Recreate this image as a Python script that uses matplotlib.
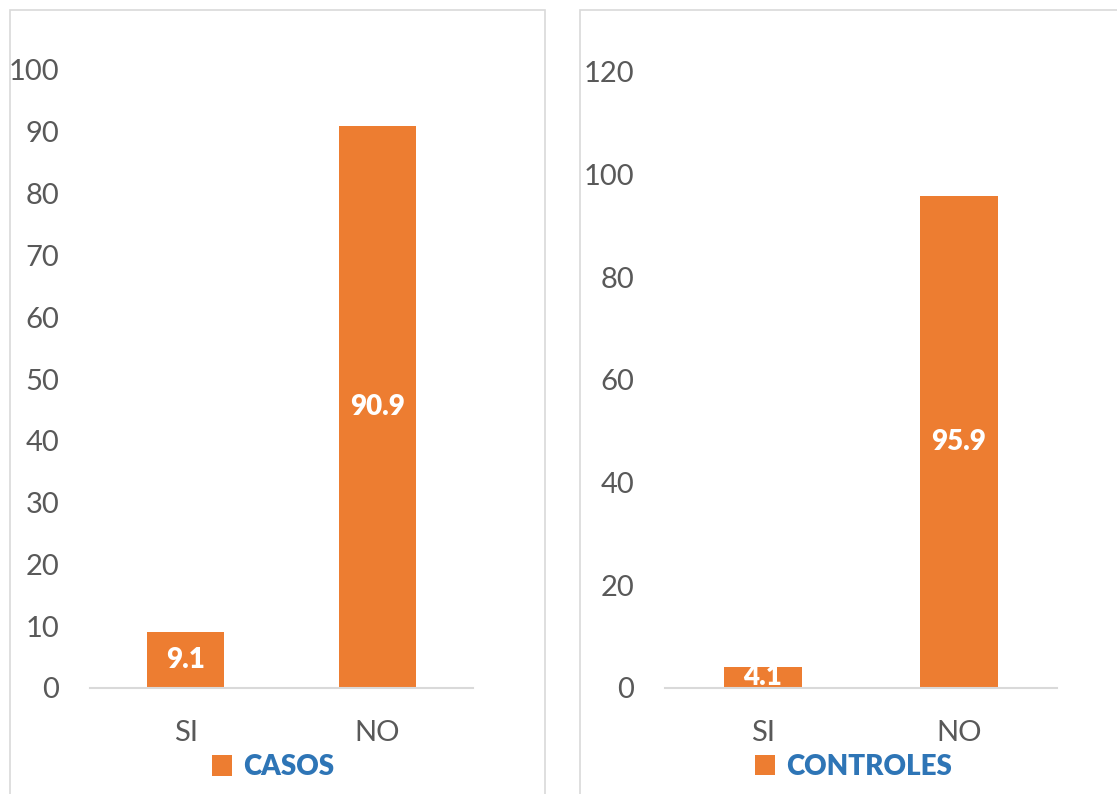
import matplotlib.pyplot as plt
from matplotlib.patches import Rectangle

plt.rcParams['font.family'] = ['Lato', 'DejaVu Sans']

categorias = ["SI", "NO"]
casos = [9.1, 90.9]
controles = [4.1, 95.9]

naranja = "#ED7D31"
azul = "#2E75B6"
gris = "#595959"
linea = "#D9D9D9"

fig = plt.figure(figsize=(11.17, 7.94), dpi=100)

# marcos de cada grafico
fig.patches.append(Rectangle((10 / 1117, -0.05), 535 / 1117, 1.05 - 10 / 794,
                             transform=fig.transFigure, fill=False,
                             edgecolor=linea, linewidth=1.2))
fig.patches.append(Rectangle((580 / 1117, -0.05), 0.6, 1.05 - 10 / 794,
                             transform=fig.transFigure, fill=False,
                             edgecolor=linea, linewidth=1.2))

ax1 = fig.add_axes([90 / 1117, 106 / 794, 383 / 1117, 618 / 794])
ax2 = fig.add_axes([665 / 1117, 106 / 794, 392 / 1117, 616 / 794])


def grafico(ax, valores, nombre, ymax, paso, leg_x):
    x = range(len(categorias))
    barras = ax.bar(x, valores, width=0.4, color=naranja, label=nombre)
    ax.bar_label(barras, label_type="center", fmt="%.1f", color="white",
                 fontsize=20, fontweight="heavy")
    ax.set_xlim(-0.5, 1.5)
    ax.set_ylim(0, ymax)
    ax.set_yticks(range(0, ymax + 1, paso))
    ax.set_xticks(list(x))
    ax.set_xticklabels(categorias)
    for s in ["top", "right", "left"]:
        ax.spines[s].set_visible(False)
    ax.spines["bottom"].set_color(linea)
    ax.spines["bottom"].set_linewidth(1.5)
    ax.tick_params(axis="y", length=0, pad=22, labelsize=21, labelcolor=gris)
    ax.tick_params(axis="x", length=0, pad=23, labelsize=21, labelcolor=gris)
    leg = ax.legend(loc="center", bbox_to_anchor=(leg_x, -0.128), frameon=False,
                    handlelength=0.75, handleheight=0.75, handletextpad=0.4,
                    prop={"weight": "heavy", "size": 20})
    for t in leg.get_texts():
        t.set_color(azul)


grafico(ax1, casos, "CASOS", 100, 10, 0.478)
grafico(ax2, controles, "CONTROLES", 120, 20, 0.481)

fig.savefig("out.png", dpi=100)
